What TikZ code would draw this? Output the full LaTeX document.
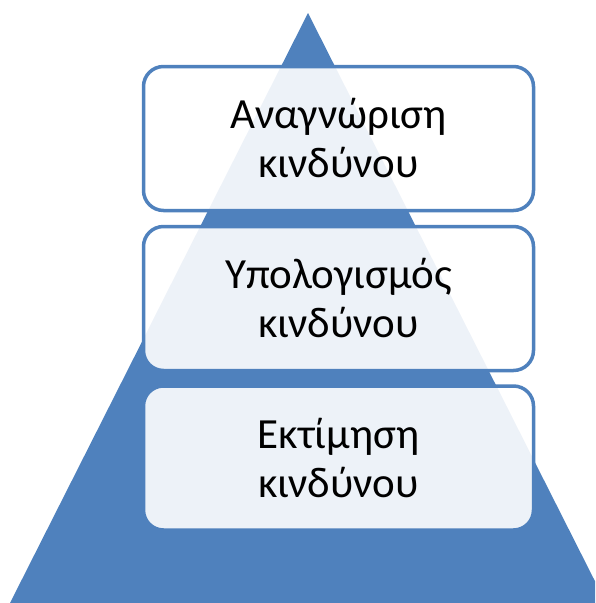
\documentclass[tikz,border=0pt]{standalone}
\usepackage{fontspec}
\setmainfont{Carlito}
\definecolor{accent}{HTML}{4F81BD}
\tikzset{
  levelbox/.style={draw=accent, line width=3.5pt, fill=white, fill opacity=0.9, text opacity=1,
    rounded corners=20pt, minimum width=390pt, minimum height=144pt, inner sep=0pt,
    align=center, font=\fontsize{43}{49}\selectfont, text=black}
}
\begin{document}
\begin{tikzpicture}[x=1pt,y=-1pt]
\useasboundingbox (0,0) rectangle (595,603);
\clip (0,0) rectangle (595,603);
\fill[accent] (308,13) -- (10,603) -- (606,603) -- cycle;
\node[levelbox] (b1) at (338.5,138.5) {Αναγνώριση\\κινδύνου};
\node[levelbox] (b2) at (338.5,298.5) {Υπολογισμός\\κινδύνου};
\node[levelbox] (b3) at (338.5,458) {Εκτίμηση\\κινδύνου};
\end{tikzpicture}
\end{document}
